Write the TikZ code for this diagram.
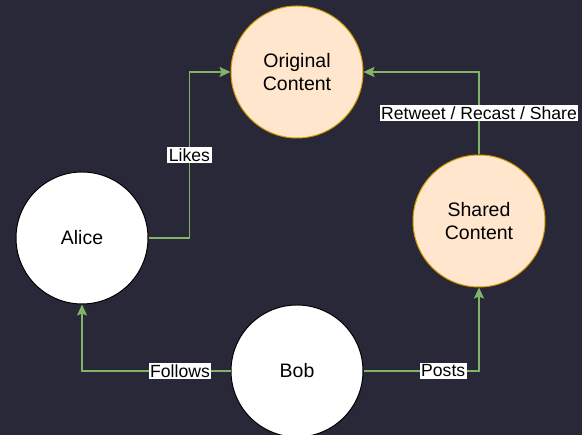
\documentclass[tikz,border=0pt]{standalone}
\usepackage{fontspec}
\setmainfont{Liberation Sans}
\usetikzlibrary{arrows.meta,calc,positioning}
\definecolor{bgcol}{RGB}{41,40,57}
\definecolor{edgecol}{RGB}{130,179,102}
\definecolor{peach}{RGB}{255,230,204}
\definecolor{peachline}{RGB}{215,155,0}

\begin{document}
\begin{tikzpicture}[x=1pt,y=1pt]
    \tikzset{Person/.style = {circle, draw=black, fill=white, line width=1pt,
        minimum size=132pt, inner sep=0pt, align=center,
        font=\fontsize{19.5}{23}\selectfont},
      Content/.style = {Person, fill=peach, draw=peachline},
      EdgeStyle/.style = {draw=edgecol, line width=1.7pt,
        -{Stealth[length=11pt,width=10pt,inset=2pt]}},
      LabelStyle/.style = {fill=white, text=black, inner sep=1.5pt,
        font=\fontsize{17.6}{18}\selectfont}}
    \fill[bgcol] (0,0) rectangle (582,435);
    \useasboundingbox (0,0) rectangle (582,435);
    \node[Content] (Orig) at (297,363) {Original\\Content};
    \node[Person] (Alice) at (82,197) {Alice};
    \node[Person] (Bob) at (297,64) {Bob};
    \node[Content] (Shared) at (479,214) {Shared\\Content};
    \coordinate (LikesBend) at ($(Alice.east)!0.5!(Orig.west)$);
    \draw[EdgeStyle] (Alice.east) -| (LikesBend) |- (Orig.west);
    \node[LabelStyle] at (LikesBend) {Likes};
    \draw[EdgeStyle] (Shared.north) |- node[LabelStyle,pos=0.25] {Retweet / Recast / Share} (Orig.east);
    \draw[EdgeStyle] (Bob.west) -| node[LabelStyle,pos=0.17] {Follows} (Alice.south);
    \draw[EdgeStyle] (Bob.east) -| node[LabelStyle,pos=0.345] {Posts} (Shared.south);
  \end{tikzpicture}
\end{document}
